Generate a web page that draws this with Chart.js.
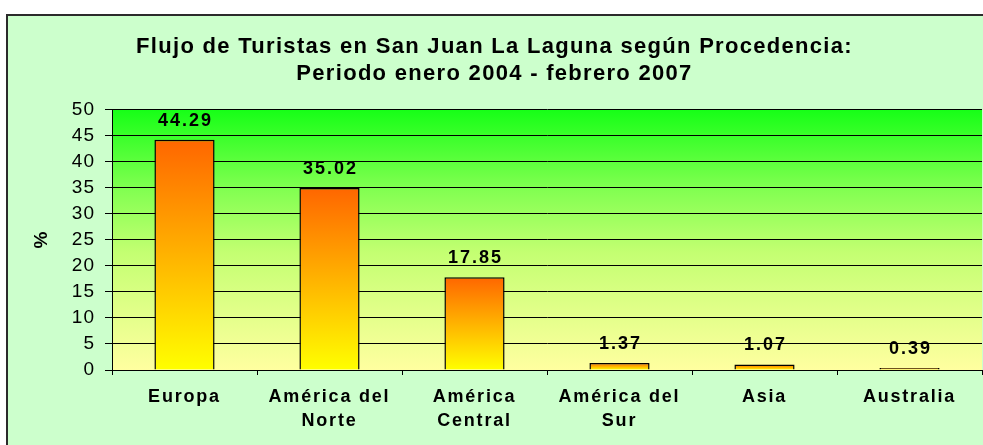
<!DOCTYPE html>
<html>
<head>
<meta charset="utf-8">
<script src="https://cdn.jsdelivr.net/npm/chart.js@4.4.1/dist/chart.umd.min.js"></script>
<style>
  html, body { margin: 0; padding: 0; background: #fff; }
  #wrap { width: 983px; height: 445px; position: relative; }
</style>
</head>
<body>
<div id="wrap"><canvas id="turismoChart"></canvas></div>

<script>
// datos del grafico
var categorias = [['Europa'], ['América del', 'Norte'], ['América', 'Central'], ['América del', 'Sur'], ['Asia'], ['Australia']];
var porcentajes = [44.29, 35.02, 17.85, 1.37, 1.07, 0.39];
var ejeY = { min: 0, max: 50, paso: 5 };
var titulo = ['Flujo de Turistas en San Juan La Laguna según Procedencia:', 'Periodo enero 2004 - febrero 2007'];

var FONT = '"Liberation Sans", Arial, sans-serif';

// envuelve un metodo de dibujo para aplicar letterSpacing (texto ancho tipo Excel)
function conEspaciado(obj, metodo, valor) {
    if (!obj || obj['_esp_' + metodo]) return;
    var original = obj[metodo];
    obj[metodo] = function() {
        var c = this.ctx;
        c.save();
        c.letterSpacing = valor;
        original.apply(this, arguments);
        c.restore();
    };
    obj['_esp_' + metodo] = true;
}

// fondo verde, borde y degradado del area de trazado
var fondoPlugin = {
    id: 'fondo',
    afterLayout: function(chart) {
        conEspaciado(chart.titleBlock, 'draw', '1.3px');
        conEspaciado(chart.scales.x, 'drawLabels', '1.8px');
        conEspaciado(chart.scales.y, 'drawLabels', '1px');
    },
    beforeDraw: function(chart) {
        var ctx = chart.ctx, a = chart.chartArea;
        ctx.save();
        ctx.fillStyle = '#ffffff';
        ctx.fillRect(0, 0, chart.width, chart.height);
        ctx.fillStyle = '#ccffcc';
        ctx.fillRect(7, 15, chart.width, chart.height);
        ctx.strokeStyle = '#2b2b2b';
        ctx.lineWidth = 2;
        ctx.strokeRect(7, 15, chart.width + 10, chart.height + 10);
        var g = ctx.createLinearGradient(0, a.top, 0, a.bottom);
        g.addColorStop(0, '#17ff17');
        g.addColorStop(0.3, '#80ff50');
        g.addColorStop(0.55, '#c4ff72');
        g.addColorStop(1, '#ffffa0');
        ctx.fillStyle = g;
        ctx.fillRect(a.left, a.top, a.right - a.left, a.bottom - a.top);
        ctx.restore();
    }
};

// etiquetas de valor encima de cada barra
var valoresPlugin = {
    id: 'valores',
    afterDatasetsDraw: function(chart) {
        var ctx = chart.ctx;
        var meta = chart.getDatasetMeta(0);
        ctx.save();
        ctx.letterSpacing = '2px';
        ctx.font = 'bold 18px ' + FONT;
        ctx.fillStyle = '#000';
        ctx.textAlign = 'center';
        ctx.textBaseline = 'alphabetic';
        meta.data.forEach(function(bar, i) {
            ctx.fillText(porcentajes[i].toFixed(2), bar.x + 1, bar.y - 14);
        });
        ctx.restore();
    }
};

function degradadoBarra(context) {
    var chart = context.chart;
    var y = chart.scales.y;
    if (!y || !chart.chartArea) return '#ffaa00';
    var top = y.getPixelForValue(context.raw);
    var bottom = y.getPixelForValue(0);
    if (bottom - top < 1) top = bottom - 1;
    var g = chart.ctx.createLinearGradient(0, top, 0, bottom);
    g.addColorStop(0, '#ff6600');
    g.addColorStop(1, '#ffff00');
    return g;
}

var ctx = document.getElementById('turismoChart').getContext('2d');
var chart = new Chart(ctx, {
    type: 'bar',
    data: {
        labels: categorias,
        datasets: [{
            data: porcentajes,
            backgroundColor: degradadoBarra,
            borderColor: '#000',
            borderWidth: 1.5,
            barPercentage: 0.415,
            categoryPercentage: 1
        }]
    },
    plugins: [fondoPlugin, valoresPlugin],
    options: {
        responsive: true,
        maintainAspectRatio: false,
        animation: false,
        layout: { padding: { left: 7, top: 15, right: 1, bottom: 0 } },
        plugins: {
            legend: { display: false },
            tooltip: { enabled: false },
            title: {
                display: true,
                text: titulo,
                color: '#000',
                font: { family: FONT, size: 22, weight: 'bold', lineHeight: 1.27 },
                padding: { top: 17.5, bottom: 21.6 }
            }
        },
        scales: {
            x: {
                grid: { drawOnChartArea: false, color: '#000', tickLength: 5 },
                border: { color: '#000', width: 1 },
                ticks: {
                    color: '#000',
                    padding: 10,
                    maxRotation: 0,
                    autoSkip: false,
                    font: { family: FONT, size: 18, weight: 'bold', lineHeight: 1.34 }
                },
                afterFit: function(s) { s.height = 75; }
            },
            y: {
                min: ejeY.min,
                max: ejeY.max,
                grid: { color: '#000', lineWidth: 1, tickLength: 7 },
                border: { color: '#000', width: 1 },
                ticks: {
                    stepSize: ejeY.paso,
                    color: '#000',
                    padding: 10,
                    font: { family: FONT, size: 19 }
                },
                title: {
                    display: true,
                    text: '%',
                    color: '#000',
                    font: { family: FONT, size: 19, weight: 'bold' },
                    padding: { top: 23, bottom: 0 }
                },
                afterFit: function(s) { s.width = 105; }
            }
        }
    }
});
chart.update();
</script>
</body>
</html>
